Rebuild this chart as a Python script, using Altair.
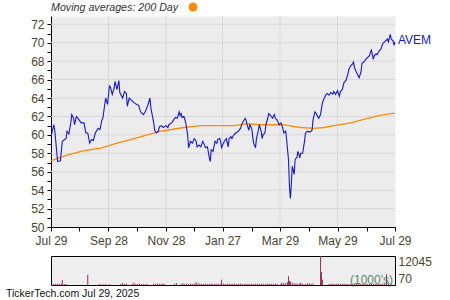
import altair as alt
import pandas as pd

# ---- data ----
ticker = "AVEM"
legend_text = "Moving averages: 200 Day"
footer_text = "TickerTech.com  Jul 29, 2025"
units_text = "(1000's)"

price_days = [0, 3, 4, 7, 10, 12, 16, 17, 19, 21, 22, 24, 25, 27, 30, 32, 35, 37, 39, 41, 43, 45, 47, 50, 52, 54, 55,
              58, 60, 62, 63, 65, 67, 68, 70, 72, 73, 76, 78, 80, 81, 83, 85, 88, 91, 93, 95, 98, 100, 103, 105, 106,
              109, 110, 112, 114, 115, 117, 119, 122, 124, 125, 128, 130, 132, 134, 136, 137, 138, 139, 141, 143, 145,
              146, 148, 150, 152, 154, 155, 157, 159, 161, 162, 164, 166, 168, 169, 170, 172, 174, 176, 177, 179, 180,
              181, 183, 184, 186, 188, 189, 191, 192, 194, 196, 199, 201, 203, 206, 207, 208, 210, 211, 213, 214, 215,
              217, 218, 220, 221, 223, 224, 225, 227, 228, 230, 231, 233, 235, 237, 238, 240, 242, 244, 246, 247, 249,
              250, 252, 253, 254, 255, 256, 258, 259, 261, 262, 264, 265, 267, 269, 270, 272, 274, 276, 277, 278, 280,
              281, 283, 284, 286, 288, 290, 292, 293, 295, 297, 299, 300, 302, 304, 306, 307, 309, 311, 313, 315, 316,
              318, 320, 321, 322, 324, 325, 327, 329, 330, 332, 334, 336, 338, 339, 340, 342, 343, 345, 346, 348, 350,
              352, 353, 355, 357, 358, 360, 361, 363, 364, 365]
price_vals = [59.8, 61.1, 60.5, 57.1, 57.2, 59.3, 59.6, 60.4, 60.1, 61.3, 62.2, 61.8, 61.1, 62.0, 61.6, 61.3, 61.3, 60.2,
              60.2, 59.1, 59.5, 59.4, 60.2, 60.7, 60.6, 61.6, 61.8,
              64.0, 63.3, 65.3, 65.2, 64.4, 65.1, 65.8, 64.9, 65.9, 64.6, 64.0, 64.7, 64.5, 63.1, 64.0, 63.8, 63.5,
              63.3, 63.2, 62.5, 62.2, 62.5, 63.3, 64.0, 62.9,
              61.3, 60.5, 60.2, 60.4, 60.9, 61.0, 60.8, 61.0, 60.8, 61.1, 61.3, 61.6, 61.9, 61.8, 62.5, 62.1, 62.3,
              61.9, 62.0, 61.3, 60.0,
              58.6, 59.3, 59.1, 59.6, 59.3, 58.7, 58.9, 58.7, 59.3, 59.1, 58.6, 58.7, 57.5, 57.1, 58.4, 58.2, 59.3,
              59.1, 59.5, 59.6, 59.3,
              58.6, 59.1, 59.3, 59.6, 58.7, 59.6, 59.8, 59.6, 60.0, 60.2, 60.4, 60.7, 61.3, 61.8, 61.6, 61.1, 60.5,
              61.1, 60.7, 59.8, 59.1,
              58.6, 59.6, 60.5, 61.1, 60.4, 59.6, 60.0, 60.2, 61.1, 61.8, 62.3, 62.1, 61.8, 62.2, 61.8, 61.6, 61.1,
              61.3, 60.7, 60.2, 60.4,
              59.5, 57.3, 54.4, 53.1, 54.7, 56.6, 55.7, 57.3, 57.6, 58.2, 57.5, 58.0, 58.0, 59.3, 60.2, 60.4, 60.3,
              60.4, 60.5, 61.6, 62.5,
              62.4, 62.0, 61.8, 62.2, 63.5, 64.0, 64.4, 64.5, 64.3, 64.6, 64.4, 64.7, 64.4, 64.8, 64.2, 64.7, 64.9,
              65.7, 65.9, 66.6, 67.1,
              67.5, 67.7, 67.9, 67.3, 66.8, 66.6, 66.2, 66.9, 67.8, 67.9, 68.2, 68.4, 68.6, 69.0, 69.2, 68.2, 68.6,
              68.8, 68.7, 69.1, 69.3,
              69.9, 70.0, 70.2, 70.4, 70.1, 70.9, 70.4, 70.2, 69.7, 70.1]

ma_days = [0, 17, 35, 53, 70, 88, 106, 116, 123, 141, 159, 177, 194, 208, 222, 240, 247, 258, 265, 279, 290, 300, 318,
           336, 353, 365]
ma_vals = [57.2, 57.8, 58.3, 58.55, 59.1, 59.6, 60.1, 60.4, 60.5, 60.8, 61.0, 61.0, 61.0, 61.2, 61.1, 61.1, 61.1, 60.9,
           60.8, 60.7, 60.8, 61.0, 61.3, 61.8, 62.2, 62.35]

vol_days = [3, 5, 7, 9, 11, 12, 14, 16, 39,
            51, 53, 56, 58, 62, 74, 76, 78, 80,
            86, 88, 90, 92, 94, 96, 98, 100, 102,
            109, 111, 113, 115, 117, 119, 120, 131, 133,
            138, 140, 142, 144, 146, 148, 150, 152, 154, 156, 158, 160, 162, 164, 166, 168, 170, 172, 174,
            176, 178, 180, 181, 183, 185, 187, 189, 191,
            193, 195, 197, 199, 201, 203, 205, 207, 209, 211, 213, 215, 217, 219, 221, 223, 225,
            228, 230, 232, 234, 236, 238, 240, 244, 245, 247, 249, 251, 252, 253, 254, 256,
            258, 260, 262, 264, 265, 267, 270, 272, 274, 276, 278, 286, 287, 288,
            295, 297, 299, 301, 303, 305, 307, 309, 311, 313, 315,
            318, 320, 322, 324, 326, 328, 330, 332, 334, 336, 338, 340, 342, 344, 346, 348, 350, 352, 354,
            356, 358, 360]
vol_vals = [600, 500, 550, 450, 600, 2100, 500, 450, 4300,
            400, 450, 350, 400, 450, 500, 900, 400, 600,
            500, 1000, 400, 450, 600, 400, 500, 450, 500,
            600, 550, 600, 500, 550, 600, 500, 500, 900,
            450, 800, 500, 600, 450, 600, 500, 700, 1200, 800, 600, 500, 550, 600, 500, 550, 600, 500, 550,
            600, 500, 550, 2300, 600, 500, 550, 600, 500,
            550, 600, 500, 550, 600, 500, 550, 600, 500, 550, 600, 500, 550, 600, 500, 550, 600,
            600, 550, 600, 500, 550, 600, 500, 700, 1000, 800, 900, 1200, 3700, 1700, 1500, 1000,
            800, 700, 600, 700, 1000, 600, 600, 700, 800, 600, 700, 12045, 5400, 2200,
            500, 550, 600, 500, 550, 600, 500, 550, 600, 500, 550,
            500, 550, 600, 500, 550, 600, 500, 550, 600, 500, 550, 600, 500, 550, 600, 500, 550, 600, 500,
            4500, 700, 600]

x_major_days = [0, 61, 122, 182, 243, 304, 365]
x_major_labels = ["Jul 29", "Sep 28", "Nov 28", "Jan 27", "Mar 29", "May 29", "Jul 29"]
x_minor_days = [30, 91, 152, 213, 274, 335]
y_major = [50, 52, 54, 56, 58, 60, 62, 64, 66, 68, 70, 72]
y_minor = [51, 53, 55, 57, 59, 61, 63, 65, 67, 69, 71]
vol_axis_vals = [70, 12045]

# ---- styles ----
LABEL_COLOR = "#4b4232"
GRID_COLOR = "#d8d8d8"
FONT = "Liberation Sans"

price_df = pd.DataFrame({"d": price_days, "p": price_vals})
ma_df = pd.DataFrame({"d": ma_days, "m": ma_vals})
vol_df = pd.DataFrame({"d": vol_days, "v": vol_vals})

label_expr = " : ".join(
    f"datum.value == {d} ? '{l}'" for d, l in zip(x_major_days, x_major_labels)
) + " : ''"

xscale = alt.Scale(domain=[0, 365], nice=False, zero=False)
yscale = alt.Scale(domain=[50, 72.9], nice=False, zero=False)

xaxis = alt.Axis(values=sorted(x_major_days + x_minor_days), labelExpr=label_expr, grid=False,
                 tickSize=4, tickColor="black", domainColor="black", labelColor=LABEL_COLOR,
                 labelFontSize=12, labelFont=FONT, labelPadding=4, title=None, labelFlush=False)
yaxis = alt.Axis(values=sorted(y_major + y_minor), labelExpr="datum.value % 2 == 0 ? datum.value : ''",
                 grid=False, tickSize=4, tickColor="black", domainColor="black", labelColor=LABEL_COLOR,
                 labelFontSize=12, labelFont=FONT, labelPadding=3, title=None)

X = alt.X("d:Q", scale=xscale, axis=xaxis)
Y = alt.Y("p:Q", scale=yscale, axis=yaxis)

hgrid = alt.Chart(pd.DataFrame({"p": y_major[1:]})).mark_rule(color=GRID_COLOR, strokeWidth=1).encode(y=Y)
vgrid = alt.Chart(pd.DataFrame({"d": x_major_days[1:-1]})).mark_rule(color=GRID_COLOR, strokeWidth=1).encode(x=X)

ma_line = alt.Chart(ma_df).mark_line(color="#ff8c00", strokeWidth=1.3).encode(
    x=X, y=alt.Y("m:Q", scale=yscale, axis=yaxis))
price_line = alt.Chart(price_df).mark_line(color="#1515e0", strokeWidth=1.1).encode(x=X, y=Y)

last_df = price_df.tail(1).assign(t=ticker)
ticker_label = alt.Chart(last_df).mark_text(align="left", baseline="middle", dx=3, dy=-2, fontSize=12,
                                            font=FONT, color="#1515e0").encode(x=X, y=Y, text="t:N")

legend_lbl = alt.Chart(pd.DataFrame({"t": [legend_text]})).mark_text(
    align="left", baseline="alphabetic", fontSize=10.7, font=FONT, fontStyle="italic", color="#333333"
).encode(x=alt.value(0), y=alt.value(-5), text="t:N")
legend_dot = alt.Chart(pd.DataFrame({"t": [legend_text]})).mark_point(
    filled=True, shape="circle", size=80, color="#ff8c00", opacity=1
).encode(x=alt.value(142), y=alt.value(-9))

main = alt.layer(hgrid, vgrid, ma_line, price_line, ticker_label, legend_lbl, legend_dot).properties(
    width=344, height=211,
    view=alt.ViewBackground(fill="#ececec", stroke="transparent"))

vol_scale = alt.Scale(domain=[70, 12045], nice=False, zero=False)
vol_axis = alt.Axis(values=vol_axis_vals, orient="right", labelFlush=True, ticks=False, domain=False, grid=False,
                    format="d", labelColor=LABEL_COLOR, labelFontSize=12, labelFont=FONT, labelPadding=3,
                    title=None)
vol_bars = alt.Chart(vol_df).mark_rule(color="#9b2d62", strokeWidth=1).encode(
    x=alt.X("d:Q", scale=xscale, axis=None),
    y=alt.Y("v:Q", scale=vol_scale, axis=vol_axis),
    y2=alt.datum(70))
units = alt.Chart(pd.DataFrame({"t": [units_text]})).mark_text(
    align="right", baseline="middle", fontSize=12, font=FONT, color="#3f7a55", opacity=0.85
).encode(x=alt.value(342), y=alt.value(24), text="t:N")
footer = alt.Chart(pd.DataFrame({"t": [footer_text]})).mark_text(
    align="left", baseline="middle", fontSize=10.5, font=FONT, color="#111111"
).encode(x=alt.value(-45), y=alt.value(38), text="t:N")

vol = alt.layer(vol_bars, units, footer).properties(
    width=344, height=29,
    view=alt.ViewBackground(fill="#eeeeee", stroke="black", strokeWidth=1))

chart = alt.vconcat(main, vol, spacing=7).properties(
    padding={"left": 5, "top": 1, "right": 0, "bottom": 0},
    background="white"
).configure_view(strokeWidth=1)

chart.save("out.html", embed_options={"renderer": "svg", "actions": False})
